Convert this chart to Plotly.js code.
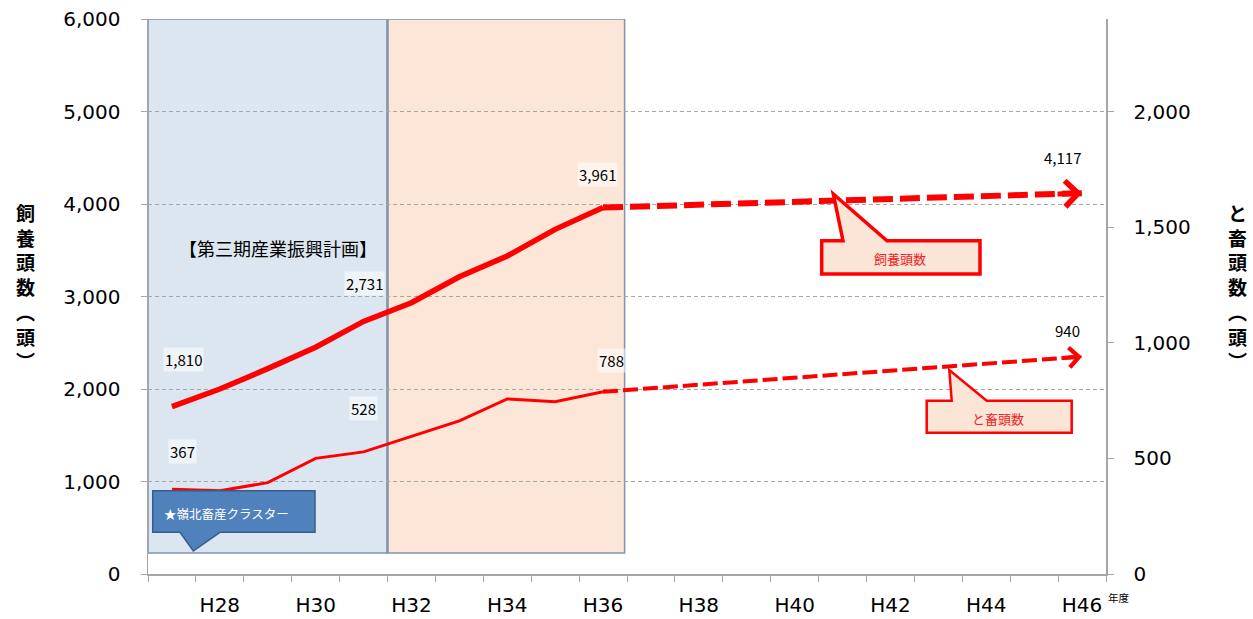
<!DOCTYPE html>
<html>
<head>
<meta charset="utf-8">
<script src="https://cdn.plot.ly/plotly-3.0.1.min.js"></script>
<style>html,body{margin:0;padding:0;background:#fff;}#chart{width:1253px;height:619px;}</style>
</head>
<body>
<div id="chart"></div>
<script>
// ---- data ----
const years = ['H27','H28','H29','H30','H31','H32','H33','H34','H35','H36','H37','H38','H39','H40','H41','H42','H43','H44','H45','H46'];
const tickLabels = ['','H28','','H30','','H32','','H34','','H36','','H38','','H40','','H42','','H44','','H46'];
const actualYears = ['H27','H28','H29','H30','H31','H32','H33','H34','H35','H36'];
const feedHead = [1810, 2000, 2220, 2451, 2731, 2933, 3214, 3438, 3726, 3961];      // 飼養頭数 (left)
const slaughterHead = [367, 360, 395, 500, 528, 595, 662, 757, 745, 788];         // と畜頭数 (right)
const targetYears = ['H36','H46'];
const feedTarget = [3961, 4117];
const slaughterTarget = [788, 940];
const leftTitle = ['飼','養','頭','数','︵','頭','︶'];
const rightTitle = ['と','畜','頭','数','︵','頭','︶'];

// ---- layout helpers (pixel -> paper) ----
const L = 148, R = 1106, T = 19, B = 574;
const px = x => (x - L) / (R - L);
const py = y => (B - y) / (B - T);
function path(pts){ return 'M' + pts.map(p => px(p[0]).toFixed(5) + ',' + py(p[1]).toFixed(5)).join(' L') + ' Z'; }

const red = '#ff0000';
const jp = 'Noto Sans CJK JP';
const num = 'DejaVu Sans';

const traces = [
  {x: actualYears, y: feedHead, type: 'scatter', mode: 'lines', yaxis: 'y',
   line: {color: red, width: 5.5}, hoverinfo: 'skip'},
  {x: targetYears, y: feedTarget, type: 'scatter', mode: 'lines', yaxis: 'y',
   line: {color: red, width: 6, dash: '20px,7px'}, hoverinfo: 'skip'},
  {x: actualYears, y: slaughterHead, type: 'scatter', mode: 'lines', yaxis: 'y2',
   line: {color: red, width: 3}, hoverinfo: 'skip'},
  {x: targetYears, y: slaughterTarget, type: 'scatter', mode: 'lines', yaxis: 'y2',
   line: {color: red, width: 4, dash: '15px,5px'}, hoverinfo: 'skip'}
];

function dataLabel(x, y, yref, text, xs, ys, bg){
  return {x: x, y: y, xref: 'x', yref: yref, text: text, showarrow: false,
    xanchor: 'center', yanchor: 'middle',
    xshift: xs, yshift: ys, font: {family: jp, size: 15, color: '#000'},
    bgcolor: bg ? 'rgba(255,255,255,0.55)' : 'rgba(0,0,0,0)', borderpad: 1};
}
function paperText(x, y, text, font, xanchor){
  return {xref: 'paper', yref: 'paper', x: px(x), y: py(y), text: text, showarrow: false,
    xanchor: xanchor || 'center', yanchor: 'middle', font: font};
}

const annotations = [
  dataLabel('H27', feedHead[0], 'y', '1,810', 12, 47, true),
  dataLabel('H31', feedHead[4], 'y', '2,731', 1, 38, true),
  dataLabel('H36', feedHead[9], 'y', '3,961', -6, 33, true),
  dataLabel('H46', feedTarget[1], 'y', '4,117', -20, 36, false),
  dataLabel('H27', slaughterHead[0], 'y2', '367', 11, 38, true),
  dataLabel('H31', slaughterHead[4], 'y2', '528', 0, 43, true),
  dataLabel('H36', slaughterHead[9], 'y2', '788', 8, 31, true),
  dataLabel('H46', slaughterTarget[1], 'y2', '940', -15, 26, false),
  // arrow heads
  {x: 'H46', y: feedTarget[1], xref: 'x', yref: 'y', text: '', showarrow: true,
   ax: -26, ay: 0.8, arrowhead: 4, arrowwidth: 5, arrowsize: 1.0, arrowcolor: red, standoff: 0},
  {x: 'H46', y: slaughterTarget[1], xref: 'x', yref: 'y2', text: '', showarrow: true,
   ax: -22, ay: 1.6, arrowhead: 4, arrowwidth: 4, arrowsize: 0.95, arrowcolor: red, standoff: 0},
  // texts
  paperText(277.5, 248, '【第三期産業振興計画】', {family: jp, size: 18, color: '#000'}),
  paperText(161.5, 513, '★嶺北畜産クラスター', {family: jp, size: 12.5, color: '#ffffff'}, 'left'),
  paperText(900, 258, '飼養頭数', {family: jp, size: 13, color: '#f02020'}),
  paperText(998, 418, 'と畜頭数', {family: jp, size: 13, color: '#f02020'}),
  paperText(1119, 597, '年度', {family: jp, size: 10.5, color: '#000'}),
  // vertical axis titles, one character per line
  paperText(25, 286, leftTitle.join('<br>'), {family: jp, size: 19, color: '#000', weight: 'bold'}),
  paperText(1237, 286, rightTitle.join('<br>'), {family: jp, size: 19, color: '#000', weight: 'bold'})
];

const shapes = [
  {type: 'rect', xref: 'x', yref: 'y', x0: -0.5, x1: 4.5, y0: 227, y1: 6000, layer: 'below',
   fillcolor: '#dce6f1', line: {color: '#7f93b3', width: 1.5}},
  {type: 'rect', xref: 'x', yref: 'y', x0: 4.5, x1: 9.45, y0: 227, y1: 6000, layer: 'below',
   fillcolor: '#fce6d8', line: {color: '#7f93b3', width: 1.5}},
  {type: 'line', xref: 'x', yref: 'y', x0: 4.5, x1: 4.5, y0: 227, y1: 6000, layer: 'below',
   line: {color: '#8497b0', width: 2.5}},
  // callouts
  {type: 'path', xref: 'paper', yref: 'paper', layer: 'above',
   path: path([[152.7,490.7],[315,490.7],[315,532.3],[220,532.3],[193.3,551],[180,532.3],[152.7,532.3]]),
   fillcolor: '#4f81bd', line: {color: '#385d8a', width: 1.5}},
  {type: 'path', xref: 'paper', yref: 'paper', layer: 'above',
   path: path([[821.7,240.7],[843,240.7],[833.3,194],[887,240.7],[980,240.7],[980,274],[821.7,274]]),
   fillcolor: '#fbe5d6', line: {color: red, width: 3.5}},
  {type: 'path', xref: 'paper', yref: 'paper', layer: 'above',
   path: path([[926.7,400.7],[951.7,400.7],[949.3,370],[986.7,400.7],[1071.7,400.7],[1071.7,432.7],[926.7,432.7]]),
   fillcolor: '#fbe5d6', line: {color: red, width: 2.5}}
];

const layout = {
  width: 1253, height: 619,
  margin: {l: L, r: 1253 - R, t: T, b: 619 - B, pad: 0},
  paper_bgcolor: '#ffffff', plot_bgcolor: '#ffffff',
  showlegend: false,
  xaxis: {type: 'category', categoryorder: 'array', categoryarray: years, range: [-0.5, 19.5],
    tickmode: 'array', tickvals: years, ticktext: tickLabels, tickson: 'boundaries', tickangle: 0,
    ticks: 'outside', ticklen: 6, tickcolor: '#a6a6a6', showline: true, linecolor: '#a6a6a6', linewidth: 1.5,
    showgrid: false, zeroline: false, ticklabelstandoff: 12,
    tickfont: {family: num, size: 20, color: '#000'}},
  yaxis: {range: [0, 6000], dtick: 1000, tickformat: ',d', showgrid: true, gridcolor: '#a6a6a6', griddash: '4px,3px',
    gridwidth: 1, ticks: 'outside', ticklen: 6, tickcolor: '#a6a6a6', showline: true, linecolor: '#a6a6a6', linewidth: 1.5,
    zeroline: false, ticklabelstandoff: 16, tickfont: {family: num, size: 20, color: '#000'}},
  yaxis2: {overlaying: 'y', side: 'right', range: [0, 2400], dtick: 500, tickformat: ',d', showgrid: false,
    ticks: 'outside', ticklen: 6, tickcolor: '#a6a6a6', showline: true, linecolor: '#a6a6a6', linewidth: 1.5,
    zeroline: false, ticklabelstandoff: 16, tickfont: {family: num, size: 20, color: '#000'}},
  shapes: shapes,
  annotations: annotations
};

Plotly.newPlot('chart', traces, layout, {staticPlot: true, displayModeBar: false});
</script>
</body>
</html>
